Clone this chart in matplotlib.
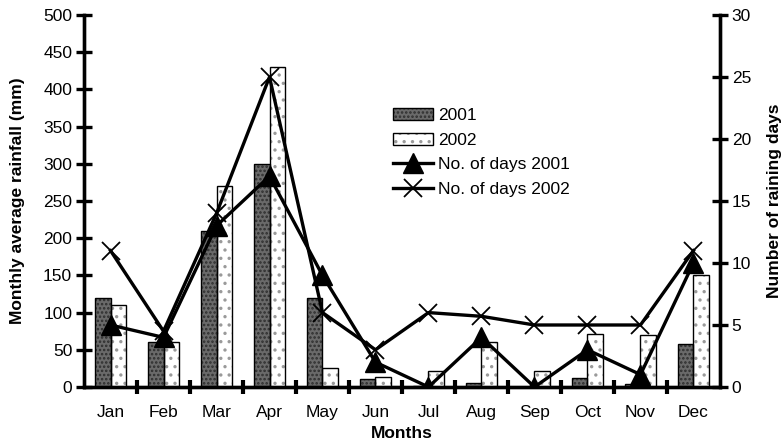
import matplotlib
matplotlib.use("Agg")
import matplotlib.pyplot as plt
import numpy as np

plt.rcParams['font.family'] = ['Liberation Sans', 'DejaVu Sans']
plt.rcParams['hatch.linewidth'] = 1.2

months = ["Jan", "Feb", "Mar", "Apr", "May", "Jun", "Jul", "Aug", "Sep", "Oct", "Nov", "Dec"]
rain_2001 = [120, 60, 210, 300, 120, 11, 1, 6, 0, 12, 4, 58]
rain_2002 = [110, 60, 270, 430, 26, 14, 22, 61, 22, 71, 70, 150]
days_2001 = [5, 4, 13, 17, 9, 2, 0, 4, 0, 3, 1, 10]
days_2002 = [11, 4.5, 14, 25, 6, 3, 6, 5.7, 5, 5, 5, 11]

fig = plt.figure(figsize=(7.83, 4.44), dpi=100)
ax = fig.add_axes([0.1073, 0.1284, 0.8122, 0.8378])
ax2 = ax.twinx()

x = np.arange(len(months))
w = 0.29

# stippled fills with a crisp black outline on top
f1 = ax.bar(x - w / 2, rain_2001, w, color='#6a6a6a', edgecolor='#2e2e2e', linewidth=0,
            hatch='....', zorder=2)
o1 = ax.bar(x - w / 2, rain_2001, w, fill=False, edgecolor='black', linewidth=1.0, zorder=2.1)
f2 = ax.bar(x + w / 2, rain_2002, w, color='white', edgecolor='#9a9a9a', linewidth=0,
            hatch='..', zorder=2)
o2 = ax.bar(x + w / 2, rain_2002, w, fill=False, edgecolor='black', linewidth=1.0, zorder=2.1)

l1, = ax2.plot(x, days_2001, color='black', lw=2.4, marker='^', ms=15,
               label='No. of days 2001', zorder=3)
l2, = ax2.plot(x, days_2002, color='black', lw=2.4, marker='x', ms=13, mew=1.3,
               label='No. of days 2002', zorder=3)

ax.set_xlim(-0.5, 11.5)
ax.set_ylim(0, 500)
ax2.set_ylim(0, 30)
ax.set_yticks(np.arange(0, 501, 50))
ax2.set_yticks(np.arange(0, 31, 5))
ax.set_xticks(x)
ax.set_xticklabels(months)
ax.set_xticks(np.arange(0.5, 11, 1), minor=True)

for a in (ax, ax2):
    a.spines['top'].set_visible(False)
    for s in ('left', 'right', 'bottom'):
        a.spines[s].set_linewidth(2.4)
    a.tick_params(axis='y', direction='inout', length=11, width=2.4, labelsize=12.5)

ax.tick_params(axis='x', which='major', length=0, labelsize=12.5, pad=13)
ax.tick_params(axis='x', which='minor', direction='inout', length=10, width=3)
ax.tick_params(axis='y', pad=3)
ax2.tick_params(axis='y', pad=3)

ax.set_xlabel('Months', fontsize=12.5, fontweight='bold', labelpad=4)
ax.set_ylabel('Monthly average rainfall (mm)', fontsize=12.5, fontweight='bold', va='center')
ax2.set_ylabel('Number of raining days', fontsize=12.5, fontweight='bold', va='center')
ax.yaxis.set_label_coords(-0.104, 0.5)
ax2.yaxis.set_label_coords(1.0865, 0.5)

ax2.legend([(f1[0], o1[0]), (f2[0], o2[0]), l1, l2],
           ['2001', '2002', l1.get_label(), l2.get_label()],
           loc='upper left', bbox_to_anchor=(0.502, 0.757), bbox_transform=fig.transFigure,
           frameon=False, fontsize=12.5, handlelength=2.3, handletextpad=0.3,
           labelspacing=0.55, borderpad=0, borderaxespad=0)

fig.savefig('out.png', dpi=100)
